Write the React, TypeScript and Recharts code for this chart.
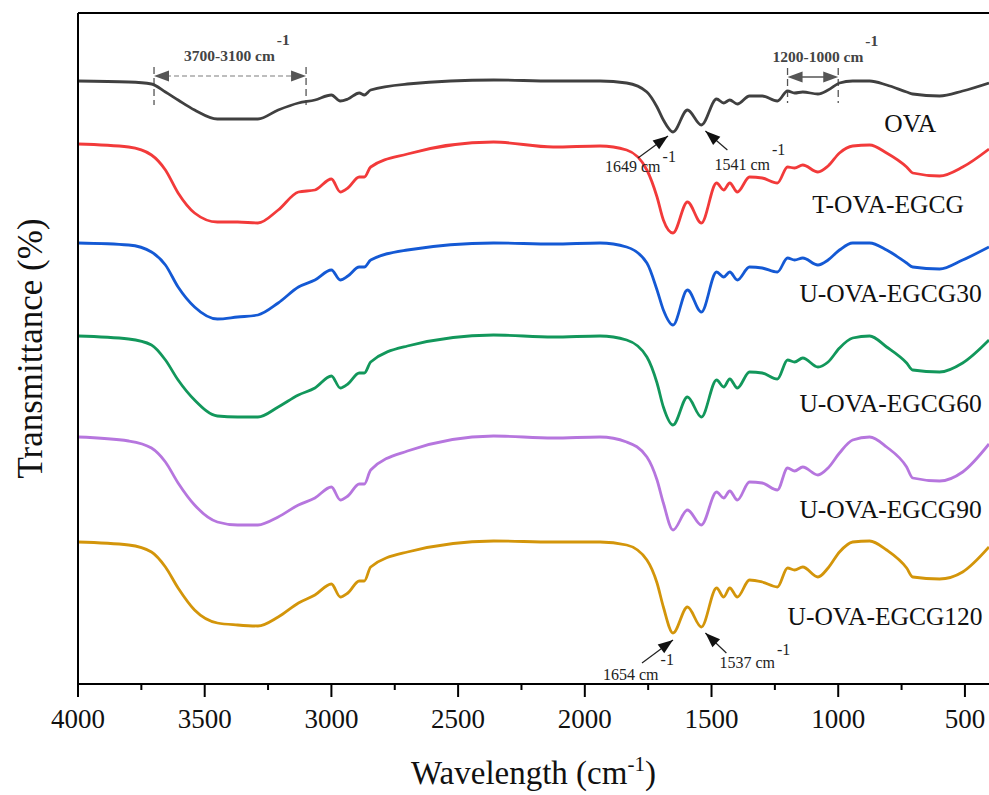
import React from "react";
import {
  LineChart,
  Line,
  XAxis,
  YAxis,
  ReferenceLine,
  ReferenceDot,
  ReferenceArea,
} from "recharts";

// wavenumber grid (cm-1)
const wavenumbers = [
  4000, 3800, 3710, 3655, 3605, 3540, 3450, 3370, 3290, 3210, 3130, 3065, 3000,
  2965, 2935, 2890, 2870, 2845, 2700, 2360, 2125, 1940, 1835, 1755, 1715, 1690,
  1652, 1595, 1540, 1480, 1452, 1428, 1398, 1350, 1300, 1240, 1200, 1172, 1140,
  1080, 1040, 995, 943, 876, 809, 730, 706, 600, 509, 405,
];

// stacked transmittance traces (arbitrary units, offset per sample)
const ova = [
  603, 602, 600, 592, 584, 574, 565, 565, 565, 574, 581, 584, 589, 583, 585, 591,
  589, 594, 600, 604, 603, 603, 601, 592, 577, 564, 552, 574, 559, 585, 581, 584,
  580, 588, 588, 583, 593, 591, 592, 590, 594, 601, 603, 603, 599, 592, 590, 588,
  593, 601,
];
const tOvaEgcg = [
  540, 537, 529, 514, 491, 471, 462, 462, 461, 474, 492, 494, 505, 492, 496, 507,
  507, 517, 530, 542, 537, 538, 534, 514, 487, 464, 451, 482, 461, 501, 494, 501,
  492, 507, 506, 501, 517, 516, 519, 512, 518, 531, 538, 539, 531, 517, 511, 508,
  517, 535,
];
const uOva30 = [
  441, 439, 432, 419, 397, 377, 365, 367, 369, 381, 397, 404, 414, 404, 408, 417,
  417, 424, 434, 441, 440, 441, 437, 421, 394, 374, 359, 394, 372, 412, 407, 412,
  404, 417, 416, 412, 426, 424, 426, 419, 424, 434, 441, 441, 434, 421, 417, 415,
  424, 437,
];
const uOva60 = [
  348, 345, 339, 324, 304, 284, 268, 267, 267, 277, 289, 296, 308, 296, 300, 311,
  311, 322, 338, 349, 347, 348, 344, 327, 301, 277, 259, 287, 267, 304, 297, 305,
  296, 312, 311, 305, 324, 322, 326, 317, 322, 336, 346, 348, 337, 321, 314, 312,
  321, 344,
];
const uOva90 = [
  247, 243, 236, 222, 201, 179, 162, 159, 159, 167, 179, 186, 197, 184, 188, 200,
  200, 214, 233, 248, 246, 247, 242, 227, 204, 181, 154, 174, 159, 192, 186, 193,
  184, 202, 201, 194, 216, 213, 217, 209, 216, 231, 244, 247, 237, 217, 206, 203,
  212, 240,
];
const uOva120 = [
  142, 139, 132, 117, 96, 74, 61, 59, 58, 67, 81, 89, 100, 87, 91, 103, 103, 117,
  132, 143, 142, 142, 139, 124, 101, 77, 51, 77, 57, 96, 87, 96, 87, 104, 102, 97,
  116, 114, 117, 107, 116, 132, 142, 143, 134, 116, 107, 105, 112, 137,
];

const xTicks = [
  4000, 3750, 3500, 3250, 3000, 2750, 2500, 2250, 2000, 1750, 1500, 1250, 1000,
  750, 500,
];

const series = [
  { key: "ova", name: "OVA", values: ova, color: "#404040", tagX: 818, tagY: 552 },
  { key: "t", name: "T-OVA-EGCG", values: tOvaEgcg, color: "#f23a3a", tagX: 1102, tagY: 471 },
  { key: "u30", name: "U-OVA-EGCG30", values: uOva30, color: "#1459d4", tagX: 1153, tagY: 382 },
  { key: "u60", name: "U-OVA-EGCG60", values: uOva60, color: "#12975b", tagX: 1153, tagY: 272 },
  { key: "u90", name: "U-OVA-EGCG90", values: uOva90, color: "#b676de", tagX: 1153, tagY: 166 },
  { key: "u120", name: "U-OVA-EGCG120", values: uOva120, color: "#d3950a", tagX: 1200, tagY: 59 },
];

const data = wavenumbers.map((w, i) => {
  const row: Record<string, number> = { w };
  series.forEach((s) => (row[s.key] = s.values[i]));
  return row;
});

const FONT = "'Liberation Serif', 'Times New Roman', serif";

function XTick(props: any) {
  const { x, y, payload } = props;
  const major = payload.value % 500 === 0;
  return (
    <g>
      <line x1={x} y1={y} x2={x} y2={y + (major ? 13 : 6)} stroke="#000" strokeWidth={2} />
      {major && (
        <text x={x} y={y + 44} textAnchor="middle" fontSize={27} fontFamily={FONT} fill="#111">
          {payload.value}
        </text>
      )}
    </g>
  );
}

function arrowHead(x1: number, y1: number, x2: number, y2: number, len: number, half: number) {
  const dx = x2 - x1;
  const dy = y2 - y1;
  const d = Math.sqrt(dx * dx + dy * dy);
  const ux = dx / d;
  const uy = dy / d;
  const bx = x2 - ux * len;
  const by = y2 - uy * len;
  return `${x2},${y2} ${bx - uy * half},${by + ux * half} ${bx + uy * half},${by - ux * half}`;
}

// range bracket: dashed end marks + double arrow + bold label
function RangeMark(props: any) {
  const { x, y, width, height, text, textDx, dashed } = props;
  const xl = x;
  const xr = x + width;
  const ay = y + 9;
  return (
    <g>
      <line x1={xl} y1={y} x2={xl} y2={y + height} stroke="#555" strokeWidth={1.3} strokeDasharray="7 4" />
      <line x1={xr} y1={y} x2={xr} y2={y + height} stroke="#555" strokeWidth={1.3} strokeDasharray="7 4" />
      <line
        x1={xl + 12}
        y1={ay}
        x2={xr - 12}
        y2={ay}
        stroke={dashed ? "#a8a8a8" : "#555"}
        strokeWidth={1.5}
        strokeDasharray={dashed ? "5 3" : undefined}
      />
      <polygon points={arrowHead(xr, ay, xl, ay, 15, 5.5)} fill="#555" />
      <polygon points={arrowHead(xl, ay, xr, ay, 15, 5.5)} fill="#555" />
      <text x={xl + textDx} y={y - 6} fontSize={15.5} fontWeight="bold" fontFamily={FONT} fill="#444">
        {text}
        <tspan dx={2} dy={-16}>-1</tspan>
      </text>
    </g>
  );
}

// single arrow pointing at a band, with its wavenumber
function PeakMark(props: any) {
  const { cx, cy, tip, tail, label, textPos, supDy } = props;
  const tx = cx + tip[0];
  const ty = cy + tip[1];
  const sx = cx + tail[0];
  const sy = cy + tail[1];
  return (
    <g>
      <line x1={sx} y1={sy} x2={tx} y2={ty} stroke="#222" strokeWidth={1.2} />
      <polygon points={arrowHead(sx, sy, tx, ty, 15, 5.5)} fill="#111" />
      <text x={cx + textPos[0]} y={cy + textPos[1]} fontSize={16} fontFamily={FONT} fill="#222">
        {label} cm
        <tspan dx={2} dy={supDy}>-1</tspan>
      </text>
    </g>
  );
}

function XTitle(props: any) {
  const vb = props.viewBox;
  return (
    <text x={vb.x + vb.width / 2} y={vb.y + 100} textAnchor="middle" fontSize={33} fontFamily={FONT} fill="#111">
      Wavelength (cm
      <tspan fontSize={21} dy={-13}>-1</tspan>
      <tspan fontSize={33} dy={13}>)</tspan>
    </text>
  );
}

function YTitle(props: any) {
  const vb = props.viewBox;
  const cx = 30;
  const cy = vb.y + vb.height / 2;
  return (
    <text
      x={cx}
      y={cy}
      transform={`rotate(-90, ${cx}, ${cy})`}
      textAnchor="middle"
      dominantBaseline="central"
      fontSize={35}
      fontFamily={FONT}
      fill="#111"
    >
      Transmittance (%)
    </text>
  );
}

export default function App() {
  return (
    <div style={{ position: "absolute", left: 0, top: 0, background: "#fff" }}>
      <LineChart width={989} height={795} data={data} margin={{ top: 13, right: 0, left: 0, bottom: 51 }}>
        <XAxis
          dataKey="w"
          type="number"
          domain={[405, 4000]}
          reversed
          allowDataOverflow
          ticks={xTicks}
          tick={<XTick />}
          tickLine={false}
          tickSize={0}
          tickMargin={0}
          axisLine={{ stroke: "#000", strokeWidth: 2 }}
          height={60}
          label={{ content: XTitle }}
        />
        <YAxis
          type="number"
          domain={[0, 671]}
          allowDataOverflow
          width={78}
          tick={false}
          tickLine={false}
          axisLine={{ stroke: "#000", strokeWidth: 2 }}
          label={{ content: YTitle }}
        />
        <ReferenceLine y={671} stroke="#000" strokeWidth={2} />

        {series.map((s) => (
          <Line
            key={s.key}
            dataKey={s.key}
            type="monotone"
            stroke={s.color}
            strokeWidth={2.8}
            dot={false}
            isAnimationActive={false}
          />
        ))}

        {series.map((s) => (
          <ReferenceDot
            key={"tag-" + s.key}
            x={s.tagX}
            y={s.tagY}
            r={0}
            shape={(p: any) => (
              <text x={p.cx} y={p.cy} fontSize={25.5} fontFamily={FONT} fill="#111">
                {s.name}
              </text>
            )}
          />
        ))}

        <ReferenceArea
          x1={3700}
          x2={3100}
          y1={579}
          y2={617}
          shape={(p: any) => <RangeMark {...p} text="3700-3100 cm" textDx={30} dashed />}
        />
        <ReferenceArea
          x1={1200}
          x2={1000}
          y1={581}
          y2={616}
          shape={(p: any) => <RangeMark {...p} text="1200-1000 cm" textDx={-15} dashed={false} />}
        />

        <ReferenceDot
          x={1652}
          y={552}
          r={0}
          shape={(p: any) => (
            <PeakMark {...p} tip={[-5, 4]} tail={[-35, 26]} label="1649" textPos={[-68, 40]} supDy={-10} />
          )}
        />
        <ReferenceDot
          x={1540}
          y={559}
          r={0}
          shape={(p: any) => (
            <PeakMark {...p} tip={[4, 6]} tail={[26, 25]} label="1541" textPos={[13, 45]} supDy={-15} />
          )}
        />
        <ReferenceDot
          x={1652}
          y={51}
          r={0}
          shape={(p: any) => (
            <PeakMark {...p} tip={[0, 7]} tail={[-31, 30]} label="1654" textPos={[-70, 47]} supDy={-15} />
          )}
        />
        <ReferenceDot
          x={1540}
          y={57}
          r={0}
          shape={(p: any) => (
            <PeakMark {...p} tip={[4, 6]} tail={[25, 26]} label="1537" textPos={[18, 41]} supDy={-13} />
          )}
        />
      </LineChart>
    </div>
  );
}
